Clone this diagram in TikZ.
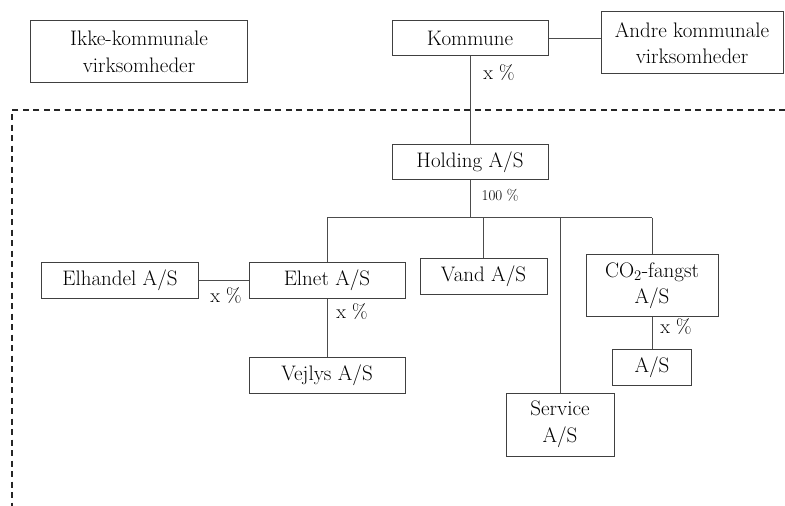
\documentclass[tikz,border=0pt]{standalone}
\usepackage{fontspec}
\begin{document}
\begin{tikzpicture}[x=1bp,y=-1bp,
  box/.style={draw=black!75, line width=1bp, rectangle, inner sep=0pt, align=center,
    font=\fontsize{21bp}{26.5bp}\selectfont, text=black},
  conn/.style={draw=black!70, line width=1bp},
  pct/.style={font=\fontsize{20bp}{24bp}\selectfont, text=black, inner sep=0pt},
  pcts/.style={font=\fontsize{15bp}{18bp}\selectfont, text=black, inner sep=0pt},
  border/.style={draw=black!85, line width=1.4bp, dash pattern=on 6bp off 4.5bp}]
\useasboundingbox[fill=white] (0,0) rectangle (785,506);
% dashed boundary
\coordinate (dtopright) at (785,110);
\coordinate (dcorner) at (12,110);
\coordinate (dbottom) at (12,506);
\draw[border] (dtopright) -- (dcorner) -- (dbottom);
% nodes
\node[box, minimum width=216bp, minimum height=62bp] (ikke) at (139,52) {Ikke-kommunale\\virksomheder};
\node[box, minimum width=156bp, minimum height=35bp] (kommune) at (470,38.5) {Kommune};
\node[box, minimum width=182bp, minimum height=62bp] (andre) at (692,43) {Andre kommunale\\virksomheder};
\node[box, minimum width=156bp, minimum height=35bp] (holding) at (470,162.5) {Holding A/S};
\node[box, minimum width=156bp, minimum height=35bp] (elhandel) at (120,280.5) {Elhandel A/S};
\node[box, minimum width=156bp, minimum height=35bp] (elnet) at (327,280.5) {Elnet A/S};
\node[box, minimum width=156bp, minimum height=36bp] (vejlys) at (327,375) {Vejlys A/S};
\node[box, minimum width=127bp, minimum height=35bp] (vand) at (483.5,276.5) {Vand A/S};
\node[box, minimum width=132bp, minimum height=61bp] (co2) at (652,285.5) {CO\textsubscript{2}-fangst\\A/S};
\node[box, minimum width=79bp, minimum height=36bp] (as) at (652,367) {A/S};
\node[box, minimum width=108bp, minimum height=63bp] (service) at (560,424.5) {Service\\A/S};
% connectors
\coordinate (bus) at (470,218);
\draw[conn] (kommune.east) -- (kommune.east -| andre.west);
\draw[conn] (kommune.south) -- (holding.north);
\draw[conn] (holding.south) -- (bus);
\draw[conn] (elnet.north |- bus) -- (co2.north |- bus);
\draw[conn] (elnet.north |- bus) -- (elnet.north);
\draw[conn] (vand.north |- bus) -- (vand.north);
\draw[conn] (service.north |- bus) -- (service.north);
\draw[conn] (co2.north |- bus) -- (co2.north);
\draw[conn] (elhandel.east) -- (elnet.west);
\draw[conn] (elnet.south) -- (vejlys.north);
\draw[conn] (co2.south) -- (as.north);
% labels
\node[pct] (l1) at (499,73) {x \%};
\node[pcts] (l2) at (500,195) {100 \%};
\node[pct] (l3) at (226,296) {x \%};
\node[pct] (l4) at (352,312) {x \%};
\node[pct] (l5) at (676,327) {x \%};
\end{tikzpicture}
\end{document}
